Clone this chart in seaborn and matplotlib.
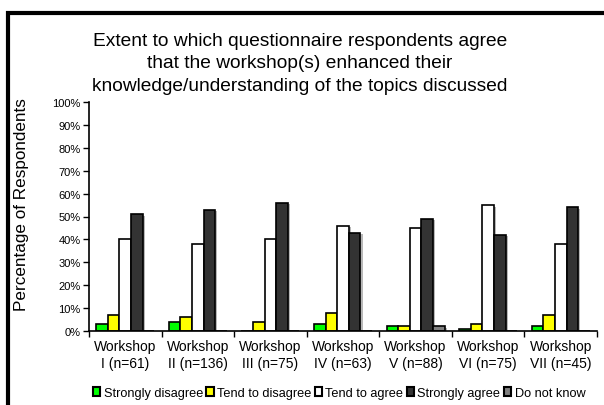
import numpy as np
import pandas as pd
import seaborn as sns
import matplotlib.pyplot as plt
from matplotlib.patches import Rectangle, Patch
from matplotlib import patheffects as pe
from matplotlib.ticker import PercentFormatter, FixedLocator

# data
workshops = ['Workshop\nI (n=61)', 'Workshop\nII (n=136)', 'Workshop\nIII (n=75)',
             'Workshop\nIV (n=63)', 'Workshop\nV (n=88)', 'Workshop\nVI (n=75)',
             'Workshop\nVII (n=45)']
responses = ['Strongly disagree', 'Tend to disagree', 'Tend to agree',
             'Strongly agree', 'Do not know']
strongly_disagree = [3, 4, 0, 3, 2, 1, 2]
tend_to_disagree = [7, 6, 4, 8, 2, 3, 7]
tend_to_agree = [40, 38, 40, 46, 45, 55, 38]
strongly_agree = [51, 53, 56, 43, 49, 42, 54]
do_not_know = [0, 0, 0, 0, 2, 0, 0]
colors = ['#00ff00', '#ffff00', '#ffffff', '#333333', '#808080']

sns.set_theme(style='white')
plt.rcParams['font.family'] = ['Liberation Sans', 'DejaVu Sans']
plt.rcParams['text.color'] = 'black'
plt.rcParams['xtick.color'] = 'black'
plt.rcParams['ytick.color'] = 'black'

rows = []
for resp, vals in zip(responses, [strongly_disagree, tend_to_disagree, tend_to_agree,
                                  strongly_agree, do_not_know]):
    for w, v in zip(workshops, vals):
        rows.append({'Workshop': w, 'Response': resp, 'Percent': v})
df = pd.DataFrame(rows)

fig = plt.figure(figsize=(6.04, 4.06), dpi=100)
ax = fig.add_axes([89 / 604, 1 - 332 / 406, 508 / 604, 229 / 406])

sns.barplot(data=df, x='Workshop', y='Percent', hue='Response', order=workshops,
            hue_order=responses, palette=colors, saturation=1, width=0.8, gap=0,
            edgecolor='black', linewidth=1.2, legend=False, ax=ax)

shadow = [pe.SimplePatchShadow(offset=(1.5, -1.2), shadow_rgbFace='#b8b8b8', alpha=1),
          pe.Normal()]
for bar in ax.patches:
    if bar.get_height() > 0:
        bar.set_path_effects(shadow)

ax.set_ylim(0, 100)
ax.set_xlim(-0.5, len(workshops) - 0.5)
ax.set_yticks(np.arange(0, 101, 10))
ax.yaxis.set_major_formatter(PercentFormatter(decimals=0))
ax.xaxis.set_minor_locator(FixedLocator(np.arange(-0.5, len(workshops), 1)))
ax.tick_params(axis='x', which='major', length=0, labelsize=10, pad=6)
ax.tick_params(axis='x', which='minor', length=4, width=1, color='black', direction='out',
               bottom=True)
ax.tick_params(axis='y', length=4, width=1, color='black', direction='out', left=True,
               labelsize=8, pad=2)
for lab in ax.get_xticklabels():
    lab.set_horizontalalignment('center')
    lab.set_multialignment('center')

sns.despine(ax=ax)
for s in ['left', 'bottom']:
    ax.spines[s].set_color('black')
    ax.spines[s].set_linewidth(1.2)

ax.set_xlabel('')
ax.set_ylabel('')
fig.text(22 / 604, 1 - 205 / 406, 'Percentage of Respondents', rotation=90,
         ha='center', va='center', fontsize=12.3)

fig.text(300 / 604, 1 - 64 / 406,
         'Extent to which questionnaire respondents agree\n'
         'that the workshop(s) enhanced their\n'
         'knowledge/understanding of the topics discussed',
         ha='center', va='center', fontsize=13.8, linespacing=1.45)

handles = [Patch(facecolor=c, edgecolor='black', linewidth=1.5) for c in colors]
fig.legend(handles, responses, loc='center', bbox_to_anchor=(339 / 604, 1 - 394 / 406),
           ncol=5, frameon=False, fontsize=9.2, handlelength=0.6, handleheight=0.6,
           handletextpad=0.25, columnspacing=0.25, borderpad=0)

fig.patches.append(Rectangle((8 / 604, -0.5), 2, 1.5 - 14 / 406, transform=fig.transFigure,
                             fill=False, edgecolor='black', linewidth=3, zorder=10))

fig.savefig('out.png', dpi=100)
